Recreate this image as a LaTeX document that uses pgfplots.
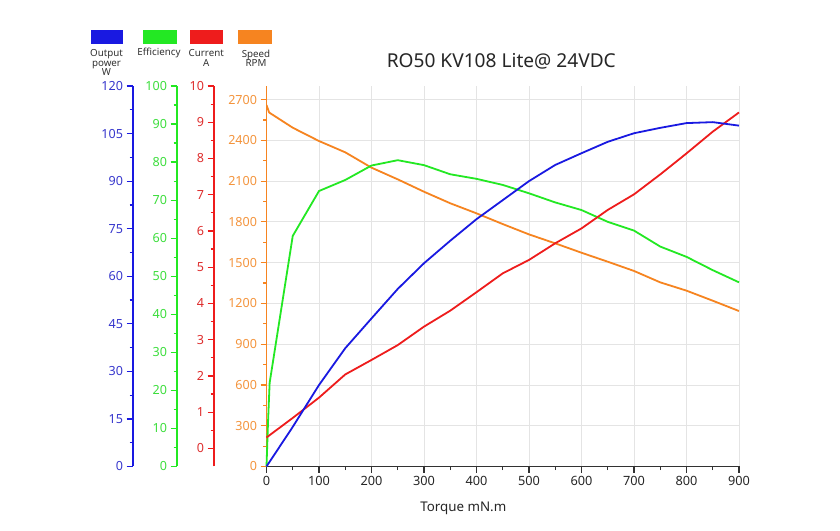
\documentclass[border=0pt]{standalone}
\usepackage{pgfplots}
\pgfplotsset{compat=1.18}
\usepackage{fontspec}
\setmainfont{Noto Sans}
\definecolor{blueC}{RGB}{25,25,225}
\definecolor{greenC}{RGB}{35,232,35}
\definecolor{redC}{RGB}{238,28,28}
\definecolor{orangeC}{RGB}{246,132,32}
\definecolor{blueL}{RGB}{55,55,205}
\definecolor{greenL}{RGB}{60,222,60}
\definecolor{redL}{RGB}{222,45,45}
\definecolor{orangeL}{RGB}{244,148,60}
\definecolor{gridC}{RGB}{228,228,228}
\definecolor{axC}{RGB}{50,50,50}
\pgfplotsset{
  sideaxis/.style={
    anchor=south west, scale only axis, width=10bp, height=380.5bp,
    xmin=0, xmax=1, axis y line=left, axis x line=none,
    tick align=outside, major tick length=6.5bp, minor tick length=3.5bp,
    minor y tick num=1,
    /pgf/number format/assume math mode=true,
    yticklabel style={font=\fontsize{12.6}{15}\selectfont},
  },
  seriesaxis/.style={
    at={(266.5bp,64.5bp)}, anchor=south west, scale only axis,
    width=472.5bp, height=380.5bp, xmin=0, xmax=900, hide axis, clip=false,
  },
}
\begin{document}
\begin{tikzpicture}
\path[use as bounding box, fill=white] (0,0) rectangle (840bp,531bp);
% legend
\fill[blueC] (91bp,487bp) rectangle (123.3bp,501bp);
\fill[greenC] (143.3bp,487bp) rectangle (176.7bp,501bp);
\fill[redC] (190bp,487bp) rectangle (223.3bp,501bp);
\fill[orangeC] (238.3bp,487bp) rectangle (272.3bp,501bp);
\begin{scope}[every node/.style={align=center, inner sep=0pt, font=\fontsize{9.8}{9.7}\selectfont, text=axC}]
\node at (106.5bp,468.3bp) {Output\\power\\W};
\node at (159bp,477.7bp) {Efficiency};
\node at (206.3bp,472.8bp) {Current\\A};
\node at (256bp,472.8bp) {Speed\\RPM};
\end{scope}
\node[anchor=base, inner sep=0pt, font=\fontsize{19.2}{22}\selectfont, text=black!85] at (501.3bp,463.7bp) {RO50 KV108 Lite@ 24VDC};
\node[anchor=base, inner sep=0pt, font=\fontsize{13.4}{16}\selectfont, text=black!85] at (463.3bp,19.3bp) {Torque mN.m};
% main axis (speed)
\begin{axis}[
  at={(266.5bp,64.5bp)}, anchor=south west, scale only axis,
  width=472.5bp, height=380.5bp,
  xmin=0, xmax=900, ymin=0, ymax=2800,
  axis lines=left, axis line style={-},
  x axis line style={draw=axC, line width=1.4bp},
  y axis line style={draw=orangeC, line width=1.4bp},
  xtick={0,100,...,900}, ytick={0,300,...,2700},
  minor x tick num=1, minor y tick num=1,
  tick align=outside, major tick length=6bp, minor tick length=3.5bp,
  x tick style={draw=axC, line width=1.2bp},
  y tick style={draw=orangeC, line width=1.2bp},
  grid=major, major grid style={draw=gridC, line width=0.9bp},
  /pgf/number format/assume math mode=true,
  /pgf/number format/1000 sep={},
  yticklabel style={font=\fontsize{12.6}{15}\selectfont, text=orangeL},
  xticklabel style={font=\fontsize{12.8}{15}\selectfont, text=black!85},
  axis on top=false,
]
\addplot[orangeC, line width=1.8bp, no marks] coordinates {
(0,2660) (5,2605) (50,2493) (100,2395) (150,2312) (200,2199) (250,2113)
(300,2022) (350,1937) (400,1863) (450,1784) (500,1708) (550,1642) (600,1573)
(650,1507) (700,1439) (750,1355) (800,1294) (850,1220) (900,1144)};
\end{axis}
% efficiency
\begin{axis}[seriesaxis, ymin=0, ymax=100]
\addplot[greenC, line width=1.8bp, no marks] coordinates {
(0,0) (3,12) (6,22) (50,60.6) (100,72.4) (150,75.3) (200,79.1) (250,80.5)
(300,79.2) (350,76.8) (400,75.6) (450,74.0) (500,71.8) (550,69.4) (600,67.4)
(650,64.3) (700,62.0) (750,57.8) (800,55.1) (850,51.6) (900,48.4)};
\end{axis}
% current
\begin{axis}[seriesaxis, ymin=-0.5, ymax=10]
\addplot[redC, line width=1.8bp, no marks] coordinates {
(0,0.3) (50,0.84) (100,1.40) (150,2.04) (200,2.44) (250,2.85) (300,3.36)
(350,3.8) (400,4.31) (450,4.83) (500,5.2) (550,5.66) (600,6.07) (650,6.58)
(700,7.01) (750,7.56) (800,8.14) (850,8.74) (900,9.27)};
\end{axis}
% power
\begin{axis}[seriesaxis, ymin=0, ymax=120]
\addplot[blueC, line width=1.8bp, no marks] coordinates {
(0,0) (50,12.5) (100,25.7) (150,37.3) (200,46.7) (250,56) (300,64.1)
(350,71.2) (400,78) (450,84) (500,90) (550,95.1) (600,98.8) (650,102.4)
(700,105.1) (750,106.8) (800,108.3) (850,108.6) (900,107.5)};
\end{axis}
% side axes
\begin{axis}[sideaxis, at={(133bp,64.5bp)}, ymin=0, ymax=120, ytick={0,15,...,120},
  y axis line style={draw=blueC, line width=1.4bp, -},
  y tick style={draw=blueC, line width=1.2bp},
  yticklabel style={text=blueL}]
\end{axis}
\begin{axis}[sideaxis, at={(177bp,64.5bp)}, ymin=0, ymax=100, ytick={0,10,...,100},
  y axis line style={draw=greenC, line width=1.4bp, -},
  y tick style={draw=greenC, line width=1.2bp},
  yticklabel style={text=greenL}]
\end{axis}
\begin{axis}[sideaxis, at={(214bp,64.5bp)}, ymin=-0.5, ymax=10, ytick={0,1,...,10},
  y axis line style={draw=redC, line width=1.4bp, -},
  y tick style={draw=redC, line width=1.2bp},
  yticklabel style={text=redL}]
\end{axis}
\end{tikzpicture}
\end{document}
